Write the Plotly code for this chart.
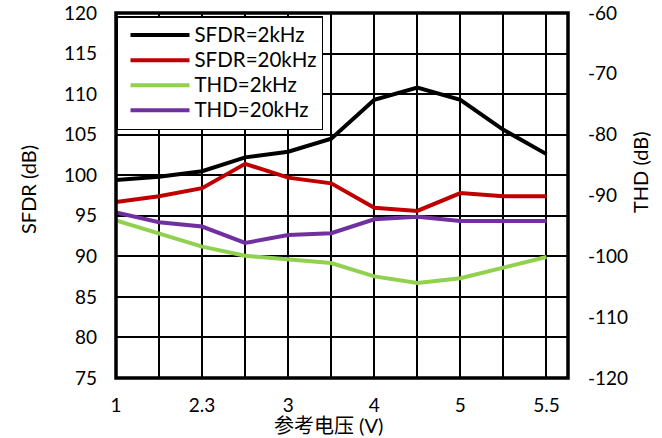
import plotly.graph_objects as go

x_labels = ["1", "", "2.3", "", "3", "", "4", "", "5", "", "5.5"]
x_idx = list(range(11))
sfdr_2k = [99.4, 99.8, 100.5, 102.2, 102.9, 104.5, 109.3, 110.8, 109.3, 105.6, 102.6]
sfdr_20k = [96.7, 97.4, 98.4, 101.4, 99.7, 99.0, 96.0, 95.6, 97.8, 97.4, 97.4]
thd_2k = [-94.1, -96.2, -98.4, -99.9, -100.5, -101.1, -103.3, -104.4, -103.6, -101.9, -100.1]
thd_20k = [-92.8, -94.4, -95.1, -97.8, -96.5, -96.2, -93.9, -93.5, -94.2, -94.2, -94.2]
thd_ticks = [-120, -110, -100, -90, -80, -70, -60]

FONT = "Lato"
PL, PR, PT, PB = 116, 568, 13, 378  # plot area in page pixels
PW, PH = PR - PL, PB - PT


def leg(name):
    return f'<span style="font-size:20.5px">{name}</span>'


fig = go.Figure()
fig.add_trace(go.Scatter(x=x_idx, y=sfdr_2k, name=leg("SFDR=2kHz"), mode="lines",
                         line=dict(color="#000000", width=4)))
fig.add_trace(go.Scatter(x=x_idx, y=sfdr_20k, name=leg("SFDR=20kHz"), mode="lines",
                         line=dict(color="#c00000", width=4)))
fig.add_trace(go.Scatter(x=x_idx, y=thd_2k, name=leg("THD=2kHz"), mode="lines", yaxis="y2",
                         line=dict(color="#92d050", width=4)))
fig.add_trace(go.Scatter(x=x_idx, y=thd_20k, name=leg("THD=20kHz"), mode="lines", yaxis="y2",
                         line=dict(color="#7030a0", width=4)))

fig.update_layout(
    width=662, height=438,
    margin=dict(l=PL, r=662 - PR, t=PT, b=438 - PB, autoexpand=False),
    paper_bgcolor="white", plot_bgcolor="white",
    font=dict(family=FONT, size=19, color="#000000"),
    showlegend=True,
    legend=dict(x=0, y=1 - 3 / PH, xanchor="left", yanchor="top",
                bgcolor="white", bordercolor="black", borderwidth=1.5,
                font=dict(family=FONT, size=17), itemwidth=59, indentation=8,
                tracegroupgap=0),
    xaxis=dict(range=[0, 10.5], tickmode="array", tickvals=x_idx,
               ticktext=x_labels, showgrid=True, gridcolor="black", gridwidth=1.5,
               zeroline=False, showline=False, ticks="", ticklabelstandoff=14,
               tickfont=dict(size=19), automargin=False),
    yaxis=dict(range=[75, 120], dtick=5, showgrid=True, gridcolor="black", gridwidth=1.5,
               zeroline=False, showline=False, ticks="", ticklabelstandoff=18,
               tickfont=dict(size=19), automargin=False),
    yaxis2=dict(range=[-120, -60], overlaying="y", side="right",
                tickmode="array", tickvals=thd_ticks, ticktext=[str(v) for v in thd_ticks],
                showgrid=False, zeroline=False, showline=False, ticks="",
                ticklabelstandoff=19, tickfont=dict(size=19), automargin=False),
    shapes=[dict(type="rect", xref="paper", yref="paper", x0=0, y0=0, x1=1, y1=1,
                 line=dict(color="black", width=3.5), layer="above")],
    annotations=[
        dict(text="参考电压 (V)", xref="paper", yref="paper", x=(328 - PL) / PW,
             y=-(425 - PB) / PH, xanchor="center", yanchor="middle", showarrow=False,
             font=dict(family=FONT + ", Noto Sans CJK SC", size=20)),
        dict(text="SFDR (dB)", xref="paper", yref="paper", x=-(PL - 28) / PW,
             y=(PB - 190) / PH, xanchor="center", yanchor="middle", showarrow=False,
             textangle=-90, font=dict(size=20)),
        dict(text="THD (dB)", xref="paper", yref="paper", x=1 + (640 - PR) / PW,
             y=(PB - 172) / PH, xanchor="center", yanchor="middle", showarrow=False,
             textangle=-90, font=dict(size=20)),
    ],
)

fig.write_html("out.html", config={"displayModeBar": False},
               post_script="document.body.style.margin='0';")
